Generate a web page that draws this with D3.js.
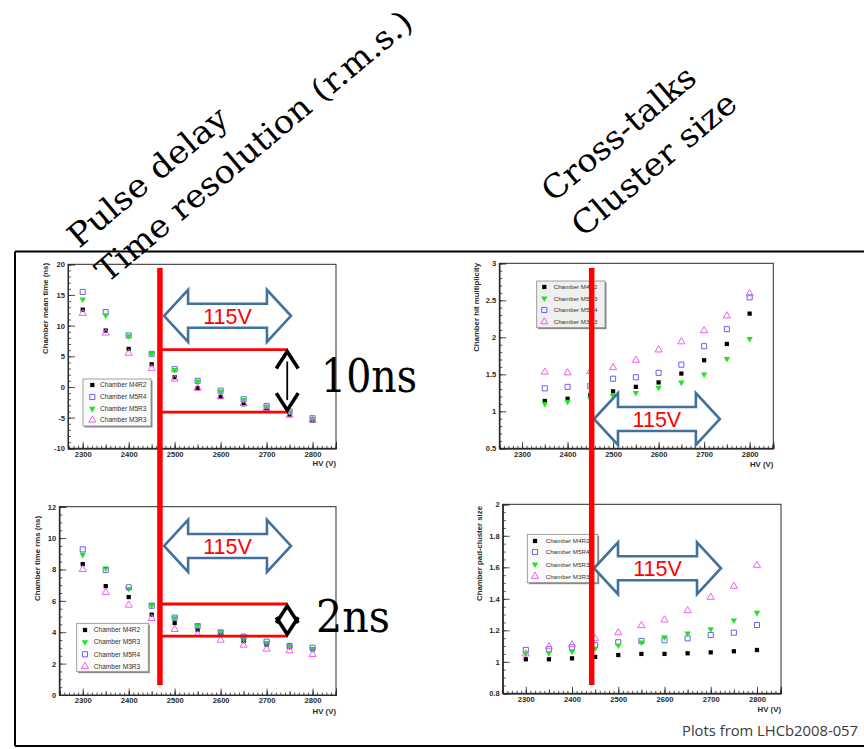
<!DOCTYPE html>
<html>
<head>
<meta charset="utf-8">
<script src="https://cdn.jsdelivr.net/npm/d3@7"></script>
<style>
  body { margin: 0; background: #fff; }
  svg { display: block; }
</style>
</head>
<body>
<script>
// ---- Data -----------------------------------------------------------------
const hvAll = [2300, 2350, 2400, 2450, 2500, 2550, 2600, 2650, 2700, 2750, 2800];
const hvHit = [2350, 2400, 2450, 2500, 2550, 2600, 2650, 2700, 2750, 2800];

// Chamber mean time (ns)
const meanM4R2 = [12.6, 9.2, 6.2, 3.7, 1.6, -0.2, -1.6, -2.8, -3.6, -4.5, -5.5];
const meanM5R4 = [15.5, 12.2, 8.4, 5.4, 2.9, 1.0, -0.6, -2.0, -3.1, -4.0, -5.1];
const meanM5R3 = [14.3, 11.7, 8.3, 5.4, 2.8, 0.9, -0.7, -2.1, -3.2, -4.1, -5.2];
const meanM3R3 = [12.0, 8.8, 5.5, 3.0, 1.3, -0.2, -1.6, -2.7, -3.5, -4.6, -5.4];

// Chamber time rms (ns)
const rmsM4R2 = [8.34, 6.94, 6.24, 5.12, 4.59, 4.16, 3.86, 3.44, 3.21, 3.08, 2.91];
const rmsM5R3 = [8.94, 8.07, 6.77, 5.73, 4.90, 4.44, 4.01, 3.57, 3.33, 3.06, 2.93];
const rmsM5R4 = [9.28, 7.96, 6.86, 5.69, 4.93, 4.39, 3.99, 3.72, 3.40, 3.12, 3.01];
const rmsM3R3 = [8.00, 6.54, 5.73, 4.88, 4.18, 3.86, 3.50, 3.18, 2.93, 2.82, 2.59];

// Chamber hit multiplicity
const hitM4R2 = [1.14, 1.17, 1.22, 1.27, 1.33, 1.39, 1.51, 1.69, 1.91, 2.32];
const hitM5R3 = [1.10, 1.13, 1.17, 1.21, 1.25, 1.32, 1.39, 1.50, 1.71, 1.98];
const hitM5R4 = [1.31, 1.33, 1.34, 1.44, 1.46, 1.52, 1.63, 1.88, 2.11, 2.54];
const hitM3R3 = [1.53, 1.52, 1.54, 1.59, 1.69, 1.83, 1.94, 2.09, 2.29, 2.59];

// Chamber pad-cluster size
const clsM4R2 = [1.016, 1.016, 1.022, 1.031, 1.043, 1.050, 1.050, 1.054, 1.060, 1.067, 1.075];
const clsM5R4 = [1.075, 1.080, 1.092, 1.105, 1.124, 1.132, 1.137, 1.149, 1.170, 1.185, 1.234];
const clsM5R3 = [1.054, 1.056, 1.065, 1.086, 1.105, 1.124, 1.156, 1.181, 1.208, 1.263, 1.312];
const clsM3R3 = [1.050, 1.096, 1.109, 1.147, 1.185, 1.230, 1.266, 1.325, 1.410, 1.480, 1.613];

// Tick labels
const hvTicks   = [2300, 2400, 2500, 2600, 2700, 2800];
const meanTicks = [-10, -5, 0, 5, 10, 15, 20];
const rmsTicks  = [0, 2, 4, 6, 8, 10, 12];
const hitTicks  = [0.5, 1, 1.5, 2, 2.5, 3];
const clsTicks  = [0.8, 1, 1.2, 1.4, 1.6, 1.8, 2];

// Annotation values
const hvCutLeft  = 2468;          // operating-point marker, left column
const hvCutRight = 2453;          // operating-point marker, right column
const meanBand   = [6.1, -4.1];   // 10 ns spread
const rmsBand    = [5.8, 3.75];   // 2 ns spread
const bandEndHV  = 2746;
const rangeLabel = "115V";
const spreadLabels = ["10ns", "2ns"];

// ---- Page -----------------------------------------------------------------
const W = 864, H = 749;
const svg = d3.select("body").append("svg")
  .attr("width", W).attr("height", H)
  .style("font-family", "'Liberation Sans', Arial, sans-serif");

const marker = {
  M4R2: { type: d3.symbolSquare,   size: 18, fill: "#000",    stroke: "none",    rot: 0 },
  M5R4: { type: d3.symbolSquare,   size: 26, fill: "none",    stroke: "#6464ee", rot: 0 },
  M5R3: { type: d3.symbolTriangle, size: 18, fill: "#1ee61e", stroke: "none",    rot: 180 },
  M3R3: { type: d3.symbolTriangle, size: 22, fill: "none",    stroke: "#f05ef0", rot: 0 }
};

const panels = [
  { name: "mean", hv: hvAll,
    series: [["M4R2", meanM4R2], ["M5R4", meanM5R4], ["M5R3", meanM5R3], ["M3R3", meanM3R3]],
    xDom: [2268, 2851], yDom: [-10, 20], yTicks: meanTicks, yMinor: 1,
    box: { l: 68, r: 336, t: 264.3, b: 448.3 },
    title: "Chamber mean time (ns)", titleX: 48, titleTop: 263, hvY: 466,
    legend: { x: 83, y: 379, w: 68, h: 47, rows: [6, 18, 29.7, 41], mx: 9.3, tx: 17, fill: "#fbfbfb", font: 6.6 } },
  { name: "hit", hv: hvHit,
    series: [["M4R2", hitM4R2], ["M5R3", hitM5R3], ["M5R4", hitM5R4], ["M3R3", hitM3R3]],
    xDom: [2250, 2852], yDom: [0.5, 3], yTicks: hitTicks, yMinor: 0.1,
    box: { l: 499.3, r: 773.3, t: 263.3, b: 448.3 },
    title: "Chamber hit multiplicity", titleX: 478.5, titleTop: 263, hvY: 467,
    legend: { x: 536.7, y: 281, w: 68.3, h: 46.7, rows: [6, 17.3, 29, 40.7], mx: 7.6, tx: 17, fill: "#efefef", font: 6.2 } },
  { name: "rms", hv: hvAll,
    series: [["M4R2", rmsM4R2], ["M5R3", rmsM5R3], ["M5R4", rmsM5R4], ["M3R3", rmsM3R3]],
    xDom: [2249, 2851], yDom: [0, 12], yTicks: rmsTicks, yMinor: 0.5,
    box: { l: 59.3, r: 336, t: 506.7, b: 695 },
    title: "Chamber time rms (ns)", titleX: 39.5, titleTop: 516, hvY: 714,
    legend: { x: 76.7, y: 623.3, w: 71.6, h: 48.4, rows: [6.7, 18.7, 31, 43], mx: 8.3, tx: 17, fill: "#fbfbfb", font: 6.6 } },
  { name: "cls", hv: hvAll,
    series: [["M4R2", clsM4R2], ["M5R4", clsM5R4], ["M5R3", clsM5R3], ["M3R3", clsM3R3]],
    xDom: [2250, 2852], yDom: [0.8, 2], yTicks: clsTicks, yMinor: 0.05,
    box: { l: 502.7, r: 781, t: 504.3, b: 693.3 },
    title: "Chamber pad-cluster size", titleX: 482, titleTop: 506, hvY: 712,
    legend: { x: 527.3, y: 534.3, w: 70.4, h: 48.4, rows: [6.7, 17.7, 30, 42], mx: 7.7, tx: 18.4, fill: "#fbfbfb", font: 6.2 } }
];

const scales = {};

panels.forEach(p => {
  const x = d3.scaleLinear().domain(p.xDom).range([p.box.l, p.box.r]);
  const y = d3.scaleLinear().domain(p.yDom).range([p.box.b, p.box.t]);
  scales[p.name] = { x, y };
  const g = svg.append("g").attr("class", "panel-" + p.name);

  // frame
  g.append("rect")
    .attr("x", p.box.l).attr("y", p.box.t)
    .attr("width", p.box.r - p.box.l).attr("height", p.box.b - p.box.t)
    .attr("fill", "#fff").attr("stroke", "#2a2a2a").attr("stroke-width", 1);

  // x axis: minor, half and major ticks pointing into the frame
  const xMinor = d3.range(Math.ceil(p.xDom[0] / 10) * 10, p.xDom[1], 10);
  const xHalf = xMinor.filter(v => v % 50 === 0);
  const ax = g.append("g").attr("transform", `translate(0,${p.box.b})`);
  ax.append("g").call(d3.axisBottom(x).tickValues(xMinor).tickSize(-2.5).tickFormat(""));
  ax.append("g").call(d3.axisBottom(x).tickValues(xHalf).tickSize(-4).tickFormat(""));
  ax.append("g").call(d3.axisBottom(x).tickValues(hvTicks).tickSize(-6.5).tickPadding(3).tickFormat(d3.format("d")));

  // y axis
  const yMin = d3.range(p.yDom[0], p.yDom[1] + 1e-9, p.yMinor).map(v => +v.toFixed(4));
  const ay = g.append("g").attr("transform", `translate(${p.box.l},0)`);
  ay.append("g").call(d3.axisLeft(y).tickValues(yMin).tickSize(-3).tickFormat(""));
  ay.append("g").call(d3.axisLeft(y).tickValues(p.yTicks).tickSize(-7).tickPadding(3).tickFormat(d => String(d)));

  g.selectAll(".domain").attr("stroke", "#2a2a2a");
  g.selectAll(".tick line").attr("stroke", "#2a2a2a").attr("stroke-width", 0.8);
  g.selectAll(".tick text")
    .attr("font-size", 7.6).attr("font-weight", "bold").attr("fill", "#2a2a2a")
    .attr("font-family", "'Liberation Sans', Arial, sans-serif");

  // axis titles
  g.append("text")
    .attr("transform", `translate(${p.titleX},${p.titleTop}) rotate(-90)`)
    .attr("text-anchor", "end")
    .attr("font-size", 7.8).attr("font-weight", "bold").attr("fill", "#2a2a2a")
    .text(p.title);
  g.append("text")
    .attr("x", p.box.r).attr("y", p.hvY)
    .attr("text-anchor", "end")
    .attr("font-size", 7.8).attr("font-weight", "bold").attr("fill", "#2a2a2a")
    .text("HV (V)");

  // data points
  p.series.forEach(([key, vals]) => {
    const m = marker[key];
    const sym = d3.symbol().type(m.type).size(m.size);
    g.append("g").selectAll("path")
      .data(vals.map((v, i) => [p.hv[i], v]))
      .join("path")
      .attr("d", sym)
      .attr("transform", d => `translate(${x(d[0])},${y(d[1])}) rotate(${m.rot})`)
      .attr("fill", m.fill)
      .attr("stroke", m.stroke)
      .attr("stroke-width", 1);
  });

  // legend
  const L = p.legend;
  const lg = g.append("g").attr("transform", `translate(${L.x},${L.y})`);
  lg.append("rect").attr("x", 1.5).attr("y", 1.5).attr("width", L.w).attr("height", L.h).attr("fill", "#8a8a8a");
  lg.append("rect").attr("width", L.w).attr("height", L.h)
    .attr("fill", L.fill).attr("stroke", "#8a8a8a").attr("stroke-width", 0.8);
  p.series.forEach(([key], i) => {
    const m = marker[key];
    lg.append("path")
      .attr("d", d3.symbol().type(m.type).size(m.size)())
      .attr("transform", `translate(${L.mx},${L.rows[i]}) rotate(${m.rot})`)
      .attr("fill", m.fill).attr("stroke", m.stroke).attr("stroke-width", 1);
    lg.append("text")
      .attr("x", L.tx).attr("y", L.rows[i] + 2.3)
      .attr("font-size", L.font).attr("fill", "#333")
      .text("Chamber " + key);
  });
});

// ---- Slide annotations ------------------------------------------------------
const ann = svg.append("g").attr("class", "annotations");
const sMean = scales.mean, sRms = scales.rms, sHit = scales.hit, sCls = scales.cls;

// red horizontal band limits
function band(s, vals, xFrom) {
  vals.forEach(v => {
    ann.append("line")
      .attr("x1", xFrom).attr("x2", s.x(bandEndHV))
      .attr("y1", s.y(v)).attr("y2", s.y(v))
      .attr("stroke", "#ff0000").attr("stroke-width", 2.8);
  });
}
band(sMean, meanBand, sMean.x(hvCutLeft));
band(sRms, rmsBand, sMean.x(hvCutLeft));

// black double arrows between band limits
function spreadArrow(s, vals, lw) {
  const cx = s.x(bandEndHV) - 0.5;
  const yTop = s.y(vals[0]) + 2, yBot = s.y(vals[1]) - 2;
  const hw = 11, drop = Math.min(17, (yBot - yTop) * 0.62);
  const a = ann.append("g").attr("fill", "none").attr("stroke", "#000")
    .attr("stroke-linejoin", "miter").attr("stroke-linecap", "butt");
  a.append("path").attr("stroke-width", lw)
    .attr("d", `M${cx - hw},${yTop + drop}L${cx},${yTop}L${cx + hw},${yTop + drop}`);
  a.append("path").attr("stroke-width", lw)
    .attr("d", `M${cx - hw},${yBot - drop}L${cx},${yBot}L${cx + hw},${yBot - drop}`);
  if (yBot - yTop > 2 * drop) {
    a.append("line").attr("stroke-width", 1.8)
      .attr("x1", cx).attr("x2", cx).attr("y1", yTop + 10).attr("y2", yBot - 10);
  }
}
spreadArrow(sMean, meanBand, 3.6);
spreadArrow(sRms, rmsBand, 3.6);

// spread labels
ann.append("text").attr("x", 321).attr("y", 391.5)
  .attr("font-family", "'DejaVu Serif', serif").attr("font-size", 46)
  .attr("textLength", 96).attr("lengthAdjust", "spacingAndGlyphs")
  .text(spreadLabels[0]);
ann.append("text").attr("x", 316).attr("y", 631.5)
  .attr("font-family", "'DejaVu Serif', serif").attr("font-size", 45)
  .attr("textLength", 74).attr("lengthAdjust", "spacingAndGlyphs")
  .text(spreadLabels[1]);

// blue outlined double-headed block arrows with the HV range
function blockArrow(s, hv0, hv1, v) {
  const x0 = s.x(hv0), x1 = s.x(hv1), cy = s.y(v);
  const hl = 24, hh = 26, sh = 12;
  const d = `M${x0},${cy}L${x0 + hl},${cy - hh}L${x0 + hl},${cy - sh}L${x1 - hl},${cy - sh}` +
            `L${x1 - hl},${cy - hh}L${x1},${cy}L${x1 - hl},${cy + hh}L${x1 - hl},${cy + sh}` +
            `L${x0 + hl},${cy + sh}L${x0 + hl},${cy + hh}Z`;
  ann.append("path").attr("d", d)
    .attr("fill", "#fff").attr("stroke", "#41719c").attr("stroke-width", 2.6)
    .attr("stroke-linejoin", "miter");
  ann.append("text").attr("x", (x0 + x1) / 2).attr("y", cy + 8)
    .attr("text-anchor", "middle").attr("fill", "#ff0000")
    .attr("font-family", "'Liberation Sans', Arial, sans-serif").attr("font-size", 21.5)
    .text(rangeLabel);
}
blockArrow(sMean, 2477, 2753, 11.6);
blockArrow(sRms, 2477, 2753, 9.5);
blockArrow(sHit, 2458, 2734.6, 0.896);
blockArrow(sCls, 2447.5, 2722.2, 1.594);

// red vertical operating-point lines spanning both rows
ann.append("line")
  .attr("x1", sMean.x(hvCutLeft)).attr("x2", sMean.x(hvCutLeft))
  .attr("y1", 268).attr("y2", 685)
  .attr("stroke", "#ff0000").attr("stroke-width", 5.5);
ann.append("line")
  .attr("x1", sHit.x(hvCutRight)).attr("x2", sHit.x(hvCutRight))
  .attr("y1", 268).attr("y2", 685)
  .attr("stroke", "#ff0000").attr("stroke-width", 5.5);

// ---- Headings -----------------------------------------------------------------
const headings = [
  { text: "Pulse delay",              x: 79,  y: 249, len: 198, angle: -40 },
  { text: "Time resolution (r.m.s.)", x: 107, y: 284, len: 402, angle: -40 },
  { text: "Cross-talks",              x: 553, y: 203, len: 190, angle: -40 },
  { text: "Cluster size",             x: 583, y: 238, len: 204, angle: -40 }
];
svg.append("g").selectAll("text").data(headings).join("text")
  .attr("transform", d => `translate(${d.x},${d.y}) rotate(${d.angle})`)
  .attr("font-family", "'DejaVu Serif', serif").attr("font-size", 32)
  .attr("textLength", d => d.len).attr("lengthAdjust", "spacingAndGlyphs")
  .attr("fill", "#000")
  .text(d => d.text);

// slide frame
svg.append("path")
  .attr("d", "M15,251.5H864M15,251.5V746M15,746H864")
  .attr("fill", "none").attr("stroke", "#000").attr("stroke-width", 2);

// source note
svg.append("text")
  .attr("x", 682).attr("y", 736)
  .attr("font-family", "'Open Sans', sans-serif").attr("font-size", 14)
  .attr("fill", "#3a3a3a")
  .attr("textLength", 176).attr("lengthAdjust", "spacingAndGlyphs")
  .text("Plots from LHCb2008-057");
</script>
</body>
</html>
